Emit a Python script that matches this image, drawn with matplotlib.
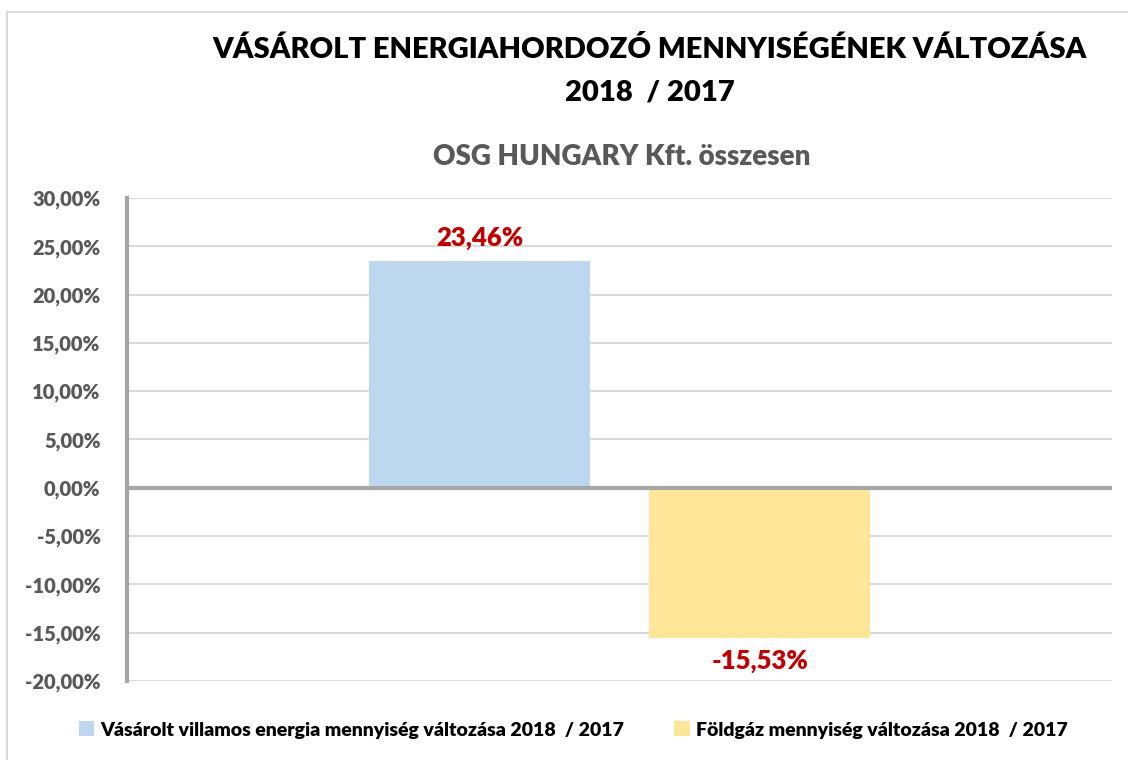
import matplotlib.pyplot as plt
from matplotlib.patches import Rectangle

title = "VÁSÁROLT ENERGIAHORDOZÓ MENNYISÉGÉNEK VÁLTOZÁSA\n2018  / 2017"
subtitle = "OSG HUNGARY Kft. összesen"
series_names = ["Vásárolt villamos energia mennyiség változása 2018  / 2017",
                "Földgáz mennyiség változása 2018  / 2017"]
values = [23.46, -15.53]
colors = ["#BDD7EE", "#FFE699"]
yticks = [30, 25, 20, 15, 10, 5, 0, -5, -10, -15, -20]

plt.rcParams['font.family'] = ['Lato', 'DejaVu Sans']
WT = "heavy"

W, H = 1128, 760
fig = plt.figure(figsize=(W / 100, H / 100), dpi=100)
# chart border
fig.patches.append(Rectangle((7 / W, -0.1), 1.2, 1 - 12 / H + 0.1, transform=fig.transFigure,
                             fill=False, edgecolor="#d9d9d9", linewidth=1.5))

ax = fig.add_axes([127 / W, 1 - 681 / H, (1112 - 127) / W, (681 - 198) / H])

bar_w = 0.2244
centers = [0.358, 0.6426]
for i in range(len(values)):
    ax.bar(centers[i], values[i], width=bar_w, color=colors[i], label=series_names[i], zorder=2)
    lab = ("%.2f%%" % values[i]).replace(".", ",")
    if values[i] >= 0:
        ax.text(centers[i], values[i] + 1.2, lab, ha="center", va="bottom",
                color="#C00000", fontsize=18.5, fontweight=WT)
    else:
        ax.text(centers[i], values[i] - 1.2, lab, ha="center", va="top",
                color="#C00000", fontsize=18.5, fontweight=WT)

ax.set_xlim(0, 1)
ax.set_ylim(-20, 30)
ax.set_yticks(yticks)
ax.set_yticklabels([("%.2f%%" % t).replace(".", ",") for t in yticks],
                   fontsize=14.5, fontweight=WT, color="#595959")
ax.set_xticks([])
ax.tick_params(axis="y", length=0, pad=19)
ax.grid(axis="y", color="#d9d9d9", linewidth=1.5, zorder=0)
ax.set_axisbelow(True)
for s in ["top", "right", "bottom"]:
    ax.spines[s].set_visible(False)
ax.spines["left"].set_color("#a6a6a6")
ax.spines["left"].set_linewidth(3)
ax.axhline(0, color="#a6a6a6", linewidth=3, zorder=3)

fig.text(650 / W, 1 - 50 / H, title.split("\n")[0], ha="center", va="center",
         fontsize=21, fontweight=WT, color="black")
fig.text(650 / W, 1 - 93 / H, title.split("\n")[1], ha="center", va="center",
         fontsize=21, fontweight=WT, color="black")
fig.text(622 / W, 1 - 157 / H, subtitle, ha="center", va="center",
         fontsize=20, fontweight=WT, color="#595959")

fig.legend(loc="center", bbox_to_anchor=(573 / W, 1 - 730 / H), ncol=2, frameon=False,
           handlelength=0.8, handleheight=0.8, handletextpad=0.3,
           columnspacing=2.6, prop={"weight": WT, "size": 14})

fig.savefig("out.png", dpi=100)
